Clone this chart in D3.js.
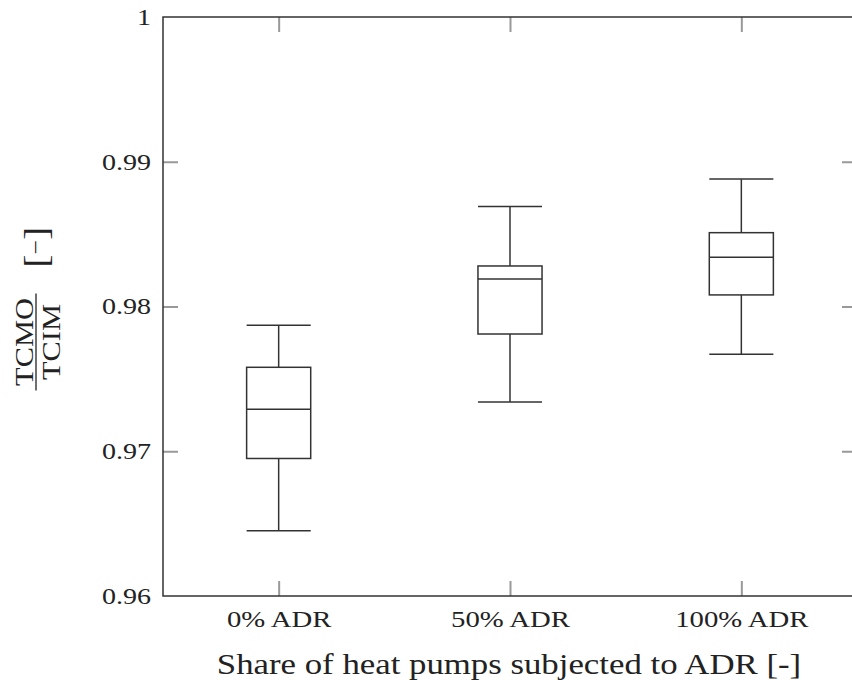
<!DOCTYPE html>
<html>
<head>
<meta charset="utf-8">
<script src="https://cdn.jsdelivr.net/npm/d3@7/dist/d3.min.js"></script>
<style>
  html, body { margin: 0; padding: 0; background: #fff; }
  svg { display: block; }
  text { font-family: "Liberation Serif", "Times New Roman", serif; fill: #222; }
</style>
</head>
<body>
<svg id="chart" width="852" height="680"></svg>
<script>
// ---- data ----
const categories = ["0% ADR", "50% ADR", "100% ADR"];
const whiskerLow  = [0.9645, 0.9734, 0.9767];
const q1          = [0.9695, 0.9781, 0.9808];
const median      = [0.9729, 0.9819, 0.9834];
const q3          = [0.9758, 0.9828, 0.9851];
const whiskerHigh = [0.9787, 0.9869, 0.9888];
const yTickValues = [0.96, 0.97, 0.98, 0.99, 1];
const yTickLabels = ["0.96", "0.97", "0.98", "0.99", "1"];
const xTitle = "Share of heat pumps subjected to ADR [-]";

(function () {
// ---- layout ----
const svg = d3.select("#chart");
const mLeft = 163, mRight = 857, mTop = 17, mBottom = 596;
const axisColor = "#333", tickColor = "#999";
const sx = 1.25; // horizontal stretch of labels

const x = d3.scalePoint().domain(categories).range([mLeft, mRight]).padding(0.5);
const y = d3.scaleLinear().domain([0.96, 1]).range([mBottom, mTop]);

const boxes = categories.map((c, i) => ({
  c, lo: whiskerLow[i], q1: q1[i], med: median[i], q3: q3[i], hi: whiskerHigh[i]
}));

// axes
const tickLen = 15;
const gLeft = svg.append("g").attr("transform", `translate(${mLeft},0)`)
  .call(d3.axisLeft(y).tickValues(yTickValues).tickFormat((d, i) => yTickLabels[i])
    .tickSize(-tickLen).tickPadding(12));
const gBottom = svg.append("g").attr("transform", `translate(0,${mBottom})`)
  .call(d3.axisBottom(x).tickSize(-tickLen).tickPadding(15));
const gTop = svg.append("g").attr("transform", `translate(0,${mTop})`)
  .call(d3.axisTop(x).tickSize(-tickLen).tickFormat(""));
const gRight = svg.append("g").attr("transform", `translate(${mRight},0)`)
  .call(d3.axisRight(y).tickValues(yTickValues).tickSize(-tickLen).tickFormat(""));

[gLeft, gBottom, gTop, gRight].forEach(g => {
  g.select(".domain").remove();
  g.selectAll(".tick line").attr("stroke", tickColor).attr("stroke-width", 2);
});
gLeft.selectAll(".tick line").filter(d => d === 0.96 || d === 1).remove();
gRight.selectAll(".tick line").filter(d => d === 0.96 || d === 1).remove();

gLeft.selectAll(".tick text")
  .attr("font-size", 23)
  .attr("font-family", "Liberation Serif")
  .attr("fill", "#222")
  .attr("x", -12 / 1.22)
  .attr("transform", "scale(1.22,1)");
gBottom.selectAll(".tick text")
  .attr("font-size", 23)
  .attr("font-family", "Liberation Serif")
  .attr("fill", "#222")
  .attr("transform", `scale(${sx},1)`);

// frame
svg.append("rect")
  .attr("x", mLeft).attr("y", mTop)
  .attr("width", mRight - mLeft).attr("height", mBottom - mTop)
  .attr("fill", "none").attr("stroke", axisColor).attr("stroke-width", 1.5);

// boxes
const bw = x.step() * 0.277;
const gb = svg.append("g").attr("stroke", axisColor).attr("stroke-width", 1.5).attr("fill", "none");
const bx = gb.selectAll("g.box").data(boxes).join("g").attr("class", "box");
bx.append("line").attr("x1", d => x(d.c)).attr("x2", d => x(d.c))
  .attr("y1", d => y(d.hi)).attr("y2", d => y(d.q3));
bx.append("line").attr("x1", d => x(d.c)).attr("x2", d => x(d.c))
  .attr("y1", d => y(d.q1)).attr("y2", d => y(d.lo));
bx.append("line").attr("x1", d => x(d.c) - bw / 2).attr("x2", d => x(d.c) + bw / 2)
  .attr("y1", d => y(d.hi)).attr("y2", d => y(d.hi));
bx.append("line").attr("x1", d => x(d.c) - bw / 2).attr("x2", d => x(d.c) + bw / 2)
  .attr("y1", d => y(d.lo)).attr("y2", d => y(d.lo));
bx.append("rect").attr("x", d => x(d.c) - bw / 2).attr("width", bw)
  .attr("y", d => y(d.q3)).attr("height", d => y(d.q1) - y(d.q3)).attr("fill", "#fff");
bx.append("line").attr("x1", d => x(d.c) - bw / 2).attr("x2", d => x(d.c) + bw / 2)
  .attr("y1", d => y(d.med)).attr("y2", d => y(d.med));

// x title
svg.append("text")
  .attr("transform", `translate(${(mLeft + mRight) / 2 - 1},674) scale(1.16,1)`)
  .attr("text-anchor", "middle")
  .attr("font-size", 30)
  .text(xTitle);

// y title (rotated fraction)
const gy = svg.append("g").attr("transform", "translate(36,342) rotate(-90) scale(1.17,1)");
gy.append("text").attr("text-anchor", "middle").attr("y", -3).attr("font-size", 26).text("TCMO");
gy.append("text").attr("text-anchor", "middle").attr("y", 24).attr("font-size", 26).text("TCIM");
gy.append("line").attr("x1", -41.5).attr("x2", 41.5).attr("y1", 0).attr("y2", 0)
  .attr("stroke", "#222").attr("stroke-width", 1.3);
const br = gy.append("text").attr("text-anchor", "middle").attr("x", 81).attr("y", 11);
br.append("tspan").attr("font-size", 34).text("[");
br.append("tspan").attr("font-size", 22).attr("dy", -4).text("\u2212");
br.append("tspan").attr("font-size", 34).attr("dy", 4).text("]");
})();
</script>
</body>
</html>
